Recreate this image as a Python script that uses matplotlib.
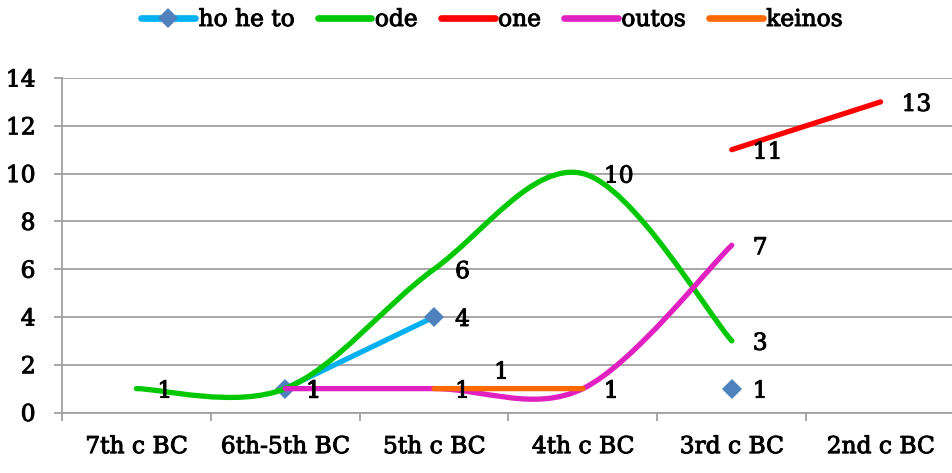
import numpy as np
import matplotlib
matplotlib.use("Agg")
import matplotlib.pyplot as plt
import matplotlib.patheffects as pe
from matplotlib.path import Path
from matplotlib.patches import PathPatch
from matplotlib.lines import Line2D

periods = ["7th c BC", "6th-5th BC", "5th c BC", "4th c BC", "3rd c BC", "2nd c BC"]

# None = no attestation for that period
ho_he_to = [None, 1, 4, None, 1, None]
ode = [1, 1, 6, 10, 3, None]
one = [None, None, None, None, 11, 13]
outos = [None, 1, 1, 1, 7, None]
keinos = [None, None, 1, 1, None, None]

series_names = ["ho he to", "ode", "one", "outos", "keinos"]
series_values = [ho_he_to, ode, one, outos, keinos]
series_colors = ["#00B0F0", "#00C800", "#FF0000", "#E020C0", "#FF6A00"]
marker_color = "#4F81BD"

FONT = "DejaVu Serif"
FS = 16.8
LW = 3.8

plt.rcParams['font.family'] = FONT


def runs(vals):
    # split a series into contiguous stretches of known values
    out, cur = [], []
    for i, v in enumerate(vals):
        if v is None:
            if cur:
                out.append(cur)
            cur = []
        else:
            cur.append((i, v))
    if cur:
        out.append(cur)
    return out


def smooth_path(pts):
    pts = np.array(pts, dtype=float)
    n = len(pts)
    verts = [pts[0]]
    codes = [Path.MOVETO]
    for i in range(n - 1):
        p0 = pts[max(i - 1, 0)]
        p1 = pts[i]
        p2 = pts[i + 1]
        p3 = pts[min(i + 2, n - 1)]
        c1 = p1 + (p2 - p0) / 6.0
        c2 = p2 - (p3 - p1) / 6.0
        verts += [c1, c2, p2]
        codes += [Path.CURVE4] * 3
    return Path(verts, codes)


fig = plt.figure(figsize=(9.53, 4.73), dpi=100)
ax = fig.add_axes([62 / 953, 1 - 412.5 / 473, 893 / 953, (412.5 - 78) / 473])

grid_color = "#A0A0A0"
ax.set_xlim(-0.5, 5.5)
ax.set_ylim(0, 14)
ax.set_yticks(range(0, 15, 2))
ax.yaxis.grid(True, color=grid_color, linewidth=1.3)
ax.set_axisbelow(True)
for side in ["top", "right"]:
    ax.spines[side].set_visible(False)
for side in ["left", "bottom"]:
    ax.spines[side].set_color(grid_color)
    ax.spines[side].set_linewidth(1.3)

ax.set_xticks(range(len(periods)))
ax.set_xticklabels(periods, fontsize=FS)
ax.set_xticks(np.arange(-0.5, 5.6, 1.0), minor=True)
ax.tick_params(axis="x", which="major", length=0, pad=17)
ax.tick_params(axis="x", which="minor", length=6, width=1.3, color=grid_color)
ax.tick_params(axis="y", length=6, width=1.3, color=grid_color, pad=13, labelsize=FS)

# value labels sit to the right of each point
label_shift = {("keinos", 2): (60, 16)}

for z, (name, vals, color) in enumerate(zip(series_names, series_values, series_colors)):
    for run in runs(vals):
        if len(run) > 1:
            patch = PathPatch(smooth_path(run), facecolor="none", edgecolor=color,
                              linewidth=LW, capstyle="round", joinstyle="round",
                              zorder=3 + z)
            ax.add_patch(patch)
    if name == "ho he to":
        xs = [i for i, v in enumerate(vals) if v is not None]
        ys = [v for v in vals if v is not None]
        ax.plot(xs, ys, linestyle="none", marker="D", markersize=10,
                color=marker_color, markeredgewidth=0, zorder=3)
    for i, v in enumerate(vals):
        if v is None:
            continue
        dx, dy = label_shift.get((name, i), (21, -3))
        ax.annotate(str(v), (i, v), xytext=(dx, dy), textcoords="offset pixels",
                    ha="left", va="center", fontsize=FS, color="black", zorder=10)

handles = []
for name, color in zip(series_names, series_colors):
    if name == "ho he to":
        h = Line2D([], [], color=color, linewidth=LW + 1, marker="D", markersize=10,
                   markerfacecolor=marker_color, markeredgewidth=0,
                   solid_capstyle="round")
    else:
        h = Line2D([], [], color=color, linewidth=LW + 1, solid_capstyle="round")
    handles.append(h)

leg = fig.legend(handles, series_names, loc="center",
                 bbox_to_anchor=(492 / 953, 1 - 20 / 473),
                 ncol=5, frameon=False, fontsize=FS, handlelength=2.3,
                 handletextpad=0.15, columnspacing=1.0)

# slightly heavier lettering
heavy = [pe.withStroke(linewidth=0.7, foreground="black")]
for t in (ax.get_xticklabels() + ax.get_yticklabels() + ax.texts + leg.get_texts()):
    t.set_path_effects(heavy)

fig.savefig("out.png", dpi=100)
